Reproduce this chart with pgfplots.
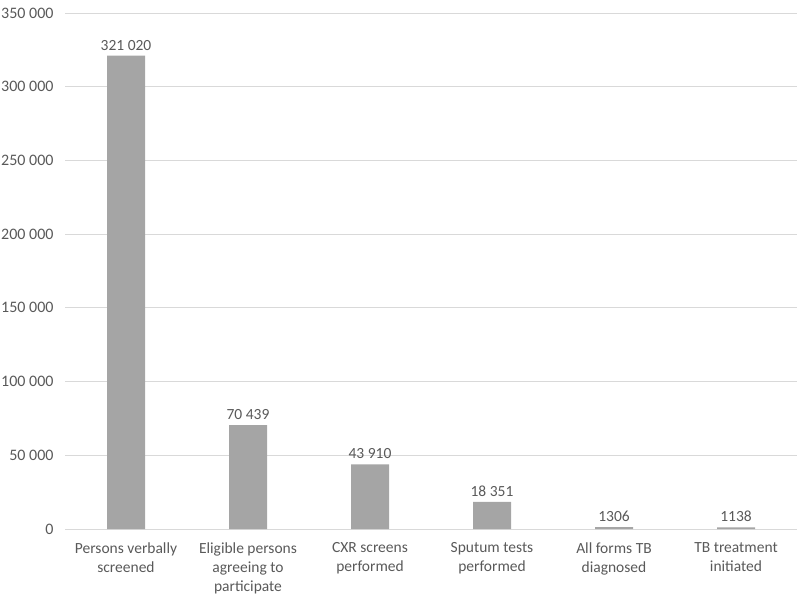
\documentclass[border=0pt]{standalone}
\usepackage{pgfplots}
\pgfplotsset{compat=1.18}
\usepackage{fontspec}
\setmainfont{Carlito}
\definecolor{barc}{HTML}{A5A5A5}
\definecolor{gridc}{HTML}{D9D9D9}
\definecolor{txt}{HTML}{595959}
\begin{document}
\begin{tikzpicture}
\useasboundingbox (-65pt,-65pt) rectangle (732pt,529pt);
\begin{axis}[
  scale only axis,
  width=732pt, height=516pt,
  anchor=south west, at={(0,0)},
  ymin=0, ymax=350000,
  ytick={0,50000,100000,150000,200000,250000,300000,350000},
  yticklabels={0,50 000,100 000,150 000,200 000,250 000,300 000,350 000},
  xmin=-0.5, xmax=5.5,
  xtick={0,1,2,3,4,5},
  xticklabels={{Persons verbally\\screened},{Eligible persons\\agreeing to\\participate},{CXR screens\\performed},{Sputum tests\\performed},{All forms TB\\diagnosed},{TB treatment\\initiated}},
  xticklabel style={align=center, font=\fontsize{15.5}{19}\selectfont, text=txt, yshift=-10pt},
  yticklabel style={font=\fontsize{16}{19}\selectfont, text=txt, xshift=-8pt},
  scaled y ticks=false,
  ymajorgrids, grid style={gridc, line width=0.8pt},
  major tick length=0pt,
  axis y line*=left, axis x line*=bottom,
  y axis line style={draw=none},
  x axis line style={gridc, line width=0.8pt},
  ybar, bar width=38pt,
  nodes near coords,
  point meta=explicit symbolic,
  nodes near coords style={font=\fontsize{15.5}{19}\selectfont, text=txt, yshift=2pt},
  clip=false,
]
\addplot[fill=barc, draw=none] table[meta=lab, col sep=comma] {
x,y,lab
0,321020,321 020
1,70439,70 439
2,43910,43 910
3,18351,18 351
4,1306,1306
5,1138,1138
};
\end{axis}
\end{tikzpicture}
\end{document}
